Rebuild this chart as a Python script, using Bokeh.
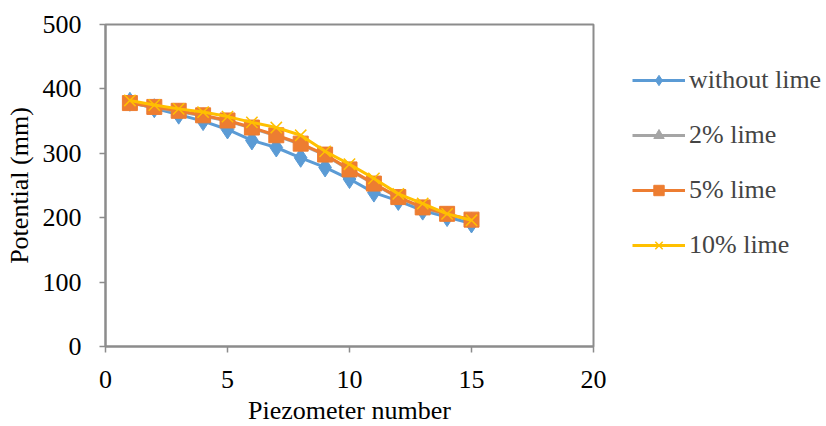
from bokeh.plotting import figure
from bokeh.models import Range1d, FixedTicker, Legend, LegendItem
from bokeh.embed import file_html
from bokeh.resources import INLINE

piezometer = list(range(1, 16))
without_lime = [380, 370, 360, 350, 337, 320, 309, 293, 278, 260, 239, 226, 211, 201, 191]
lime_2 = [378, 371, 365, 358, 350, 339, 327, 314, 297, 274, 252, 231, 215, 205, 196]
lime_5 = [378, 372, 366, 359, 351, 340, 328, 315, 298, 275, 253, 232, 216, 206, 197]
lime_10 = [382, 375, 369, 364, 357, 348, 340, 328, 303, 283, 261, 237, 222, 206, 196]
x_ticks = [0, 5, 10, 15, 20]
y_ticks = [0, 100, 200, 300, 400, 500]

FONT = "Liberation Serif"
AX = "#8c8c8c"

p = figure(frame_width=488, frame_height=322, output_backend="svg", toolbar_location=None,
           x_range=Range1d(0, 20), y_range=Range1d(0, 500),
           min_border_left=105, min_border_top=24, min_border_bottom=78, min_border_right=231)
p.grid.visible = False
p.outline_line_color = AX
p.outline_line_width = 2
p.background_fill_color = "white"
p.border_fill_color = "white"

for ax in (p.xaxis[0], p.yaxis[0]):
    ax.axis_line_color = AX
    ax.axis_line_width = 2
    ax.major_tick_line_color = AX
    ax.major_tick_line_width = 1.5
    ax.major_tick_out = 6
    ax.major_tick_in = 0
    ax.minor_tick_line_color = None
    ax.major_label_text_font = FONT
    ax.major_label_text_font_size = "26px"
    ax.major_label_text_color = "black"
    ax.axis_label_text_font = FONT
    ax.axis_label_text_font_size = "26px"
    ax.axis_label_text_font_style = "normal"
    ax.axis_label_text_color = "black"

p.xaxis.ticker = FixedTicker(ticks=x_ticks)
p.yaxis.ticker = FixedTicker(ticks=y_ticks)
p.xaxis.axis_label = "Piezometer number"
p.yaxis.axis_label = "Potential (mm)"
p.xaxis.major_label_standoff = 18
p.yaxis.major_label_standoff = 18
p.xaxis.axis_label_standoff = 5
p.yaxis.axis_label_standoff = 6

LW = 3
c1, c2, c3, c4 = "#5B9BD5", "#A5A5A5", "#ED7D31", "#FFC000"

l1 = p.line(piezometer, without_lime, color=c1, line_width=LW)
m1 = p.scatter(piezometer, without_lime, marker="diamond", size=19, color=c1)
l2 = p.line(piezometer, lime_2, color=c2, line_width=LW)
m2 = p.scatter(piezometer, lime_2, marker="triangle", size=14, color=c2)
l3 = p.line(piezometer, lime_5, color=c3, line_width=LW)
m3 = p.scatter(piezometer, lime_5, marker="square", size=15, color=c3)
l4 = p.line(piezometer, lime_10, color=c4, line_width=LW)
m4 = p.scatter(piezometer, lime_10, marker="x", size=16, line_color=c4, line_width=1.5)

legend = Legend(items=[
    LegendItem(label="without lime", renderers=[l1, m1]),
    LegendItem(label="2% lime", renderers=[l2, m2]),
    LegendItem(label="5% lime", renderers=[l3, m3]),
    LegendItem(label="10% lime", renderers=[l4, m4]),
], location=(39, 86))
legend.border_line_color = None
legend.background_fill_alpha = 0
legend.label_text_font = FONT
legend.label_text_font_size = "26px"
legend.glyph_width = 53
legend.glyph_height = 26
legend.label_height = 26
legend.spacing = 25
legend.margin = 0
legend.padding = 0
legend.label_standoff = 4
p.add_layout(legend, "right")

open("out.html", "w").write(file_html(p, INLINE))
